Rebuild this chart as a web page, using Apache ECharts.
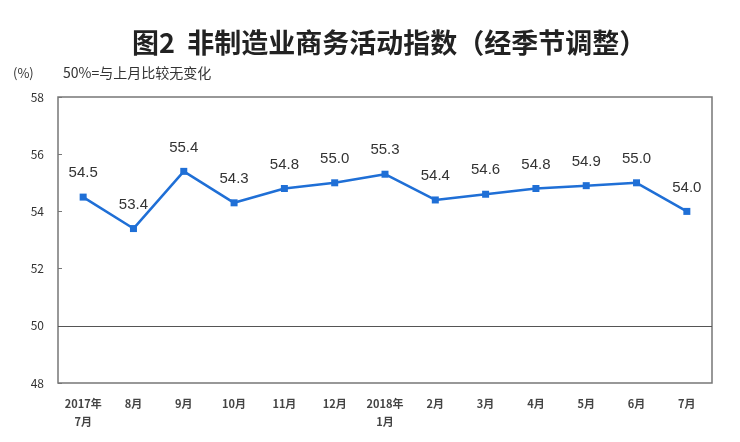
<!DOCTYPE html>
<html><head><meta charset="utf-8">
<script src="https://cdn.jsdelivr.net/npm/echarts@6/dist/echarts.min.js"></script>
<style>html,body{margin:0;padding:0;background:#fff}#c{width:740px;height:442px}</style>
</head><body><div id="c"></div>
<script>
const categories = ['2017年\n7月','8月','9月','10月','11月','12月','2018年\n1月','2月','3月','4月','5月','6月','7月'];
const values = [54.5,53.4,55.4,54.3,54.8,55.0,55.3,54.4,54.6,54.8,54.9,55.0,54.0];
const yTicks = [48,50,52,54,56,58];
const chart = echarts.init(document.getElementById('c'));
chart.setOption({
  animation:false,
  title:{text:'图2  非制造业商务活动指数（经季节调整）',left:127,top:24,
    textStyle:{fontSize:27,fontWeight:'bold',color:'#222',fontFamily:'Noto Sans CJK SC'}},
  graphic:[
    {type:'text',left:13,top:67,style:{text:'(%)',fontSize:13,fill:'#333',fontFamily:'Noto Sans CJK SC'}},
    {type:'text',left:63,top:66,style:{text:'50%=与上月比较无变化',fontSize:14,fill:'#333',fontFamily:'Noto Sans CJK SC'}}
  ],
  grid:{left:58,right:28,top:97,bottom:59,show:true,borderColor:'#777',borderWidth:1.5},
  xAxis:{type:'category',data:categories,boundaryGap:true,
    axisLine:{show:false},axisTick:{show:false},
    axisLabel:{fontSize:11,color:'#444',fontWeight:'bold',margin:12,lineHeight:18,fontFamily:'Noto Sans CJK SC'}},
  yAxis:{type:'value',min:yTicks[0],max:yTicks[yTicks.length-1],interval:2,
    splitLine:{show:false},axisLine:{show:false},
    axisTick:{show:true,inside:true,length:4,lineStyle:{color:'#777'}},
    axisLabel:{fontSize:12,color:'#333',margin:14,fontFamily:'Noto Sans CJK SC'}},
  series:[{type:'line',data:values,symbol:'rect',symbolSize:7,
    lineStyle:{color:'#1f6fd6',width:2.5},itemStyle:{color:'#1f6fd6'},
    label:{show:true,position:'top',distance:13,fontSize:15,color:'#333',
      formatter:p=>p.value.toFixed(1),fontFamily:'Liberation Sans'},
    markLine:{silent:true,symbol:'none',label:{show:false},
      lineStyle:{color:'#555',type:'solid',width:1.2},data:[{yAxis:50}]}}]
});
</script></body></html>
